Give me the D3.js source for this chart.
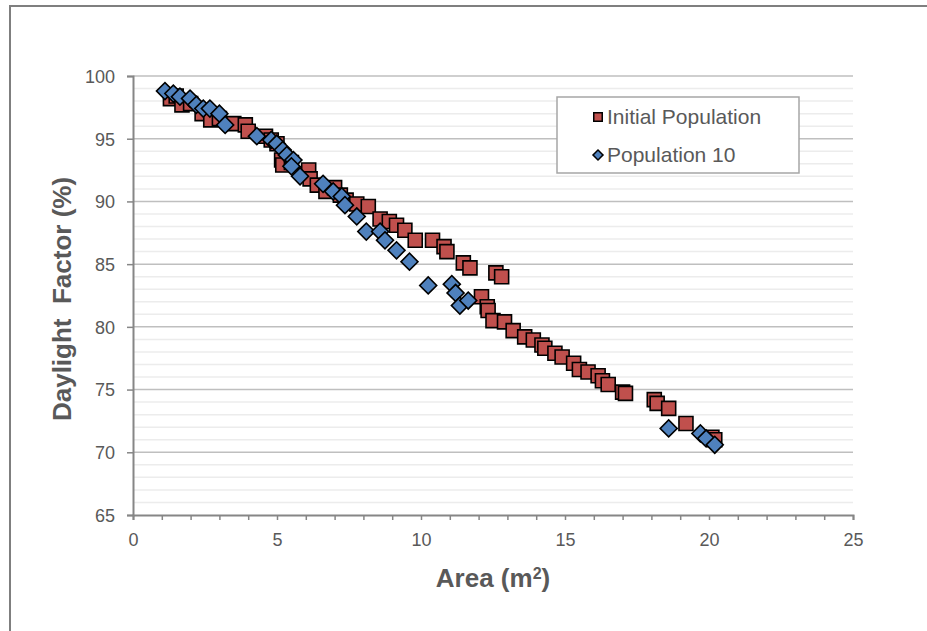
<!DOCTYPE html> <meta charset="utf-8" />
<style>
  body {
    margin: 0;
    background: #fff;
  }
  text {
    font-family: "Liberation Sans", Arial, sans-serif;
    fill: #595959;
  }
  .axis-title {
    font-size: 26px;
    font-weight: bold;
  }
  .legend {
    font-size: 21px;
  }
</style>
<body>
  <script src="https://d3js.org/d3.v7.min.js" charset="utf-8"></script>
  <script>
    // data
    var initialArea = [1.3, 1.5, 1.7, 2.0, 2.4, 2.7, 3.0, 3.5, 3.9, 4.0, 4.6, 4.8, 5.0, 5.16, 5.2, 5.5,
      6.0, 6.1, 6.15, 6.4, 6.7, 7.0, 7.2, 7.4, 7.77, 8.17, 8.58, 8.9, 9.15, 9.44, 9.8, 10.4, 10.8,
      10.9, 11.47, 11.7, 12.6, 12.8, 12.1, 12.3, 12.33, 12.5, 12.9, 13.2, 13.6, 13.9, 14.2, 14.3,
      14.65, 14.9, 15.3, 15.5, 15.8, 16.15, 16.3, 16.5, 17.0, 17.1, 18.1, 18.2, 18.6, 19.2, 20.1, 20.2];
    var initialDf = [98.2, 98.4, 97.7, 97.8, 97.0, 96.5, 96.6, 96.2, 96.1, 95.6, 95.2, 94.9, 94.6, 93.3, 92.9, 93.1,
      92.2, 92.5, 91.8, 91.3, 90.8, 91.1, 90.5, 90.1, 89.8, 89.6, 88.6, 88.4, 88.1, 87.7, 86.9, 86.9, 86.4,
      86.0, 85.1, 84.7, 84.3, 84.0, 82.4, 81.6, 81.3, 80.5, 80.4, 79.7, 79.2, 78.95, 78.55, 78.3,
      77.9, 77.6, 77.1, 76.6, 76.4, 76.1, 75.7, 75.4, 74.8, 74.7, 74.2, 73.9, 73.5, 72.3, 71.2, 71.0];

    var pop10Area = [1.11, 1.4, 1.63, 1.98, 2.2, 2.44, 2.67, 3.0, 3.2, 4.3, 4.8, 4.99, 5.2, 5.34, 5.57, 5.5,
      5.8, 6.6, 6.95, 7.25, 7.36, 7.77, 8.1, 8.58, 8.75, 9.15, 9.6, 10.25, 11.07, 11.2, 11.35, 11.64,
      18.6, 19.7, 19.9, 20.2];
    var pop10Df = [98.8, 98.6, 98.35, 98.2, 97.7, 97.4, 97.4, 97.0, 96.1, 95.2, 94.9, 94.6, 94.1, 93.7, 93.3, 92.8,
      92.0, 91.4, 90.8, 90.4, 89.7, 88.8, 87.6, 87.6, 86.9, 86.1, 85.2, 83.3, 83.4, 82.7, 81.7, 82.1,
      71.9, 71.5, 71.1, 70.6];

    var seriesNames = ["Initial Population", "Population 10"];
    var xTicks = [0, 5, 10, 15, 20, 25];
    var yTicks = [65, 70, 75, 80, 85, 90, 95, 100];

    var width = 927,
      height = 631;

    var svg = d3
      .select("body")
      .append("svg")
      .attr("width", width)
      .attr("height", height);

    // outer chart frame (runs off the right and bottom edge)
    svg
      .append("rect")
      .attr("x", 10)
      .attr("y", 6)
      .attr("width", 940)
      .attr("height", 660)
      .style("fill", "none")
      .style("stroke", "#7f7f7f")
      .style("stroke-width", 2);

    var x = d3.scaleLinear().domain([0, 25]).range([133, 853]);
    var y = d3.scaleLinear().domain([65, 100]).range([515, 76]);

    // minor gridlines every 1 unit
    svg
      .selectAll(".minor")
      .data(d3.range(66, 100).filter(d => d % 5 != 0))
      .enter()
      .append("line")
      .attr("class", "minor")
      .attr("x1", x(0))
      .attr("x2", x(25))
      .attr("y1", d => y(d))
      .attr("y2", d => y(d))
      .style("stroke", "#ececec")
      .style("stroke-width", 1.5);

    // major gridlines
    svg
      .selectAll(".major")
      .data(yTicks.filter(d => d > 65))
      .enter()
      .append("line")
      .attr("class", "major")
      .attr("x1", x(0))
      .attr("x2", x(25))
      .attr("y1", d => y(d))
      .attr("y2", d => y(d))
      .style("stroke", "#bfbfbf")
      .style("stroke-width", 1.5);

    // axes
    var xAxis = svg
      .append("g")
      .attr("transform", "translate(0," + y(65) + ")")
      .call(
        d3.axisBottom(x)
          .tickValues(d3.range(0, 26))
          .tickSize(5)
          .tickFormat(d => (xTicks.indexOf(d) >= 0 ? d : ""))
      );
    var yAxis = svg
      .append("g")
      .attr("transform", "translate(" + x(0) + ",0)")
      .call(d3.axisLeft(y).tickValues(yTicks).tickSize(6).tickPadding(12));

    [xAxis, yAxis].forEach(function(a) {
      a.select(".domain").style("stroke", "#868686").style("stroke-width", 2);
      a.selectAll(".tick line").style("stroke", "#868686").style("stroke-width", 1.5);
      a.selectAll(".tick text")
        .style("fill", "#595959")
        .style("font-family", "'Liberation Sans', Arial, sans-serif")
        .style("font-size", "18px");
    });
    xAxis.selectAll(".tick text").attr("dy", "1.25em");
    yAxis.selectAll(".tick text").attr("dy", "0.35em");

    // axis titles
    var xTitle = svg
      .append("text")
      .attr("class", "axis-title")
      .attr("x", 493)
      .attr("y", 587)
      .attr("text-anchor", "middle")
      .text("Area (m");
    xTitle.append("tspan").attr("baseline-shift", "super").style("font-size", "16px").text("2");
    xTitle.append("tspan").text(")");

    svg
      .append("text")
      .attr("class", "axis-title")
      .attr("transform", "translate(71,299) rotate(-90)")
      .attr("text-anchor", "middle")
      .style("white-space", "pre")
      .text("Daylight  Factor (%)");

    var square = d3.symbol().type(d3.symbolSquare).size(196);
    var diamond = d3.symbol().type(d3.symbolSquare).size(144);

    // initial population squares
    svg
      .selectAll(".initial")
      .data(initialArea.map((a, i) => [a, initialDf[i]]))
      .enter()
      .append("path")
      .attr("class", "initial")
      .attr("d", square)
      .attr("transform", d => "translate(" + x(d[0]) + "," + y(d[1]) + ")")
      .style("fill", "#c0504d")
      .style("stroke", "#000")
      .style("stroke-width", 1.6);

    // population 10 diamonds
    svg
      .selectAll(".pop10")
      .data(pop10Area.map((a, i) => [a, pop10Df[i]]))
      .enter()
      .append("path")
      .attr("class", "pop10")
      .attr("d", diamond)
      .attr("transform", d => "translate(" + x(d[0]) + "," + y(d[1]) + ") rotate(45)")
      .style("fill", "#4f81bd")
      .style("stroke", "#000")
      .style("stroke-width", 1.6);

    // legend box
    svg
      .append("rect")
      .attr("x", 557)
      .attr("y", 97)
      .attr("width", 242)
      .attr("height", 76)
      .style("fill", "#fff")
      .style("stroke", "#a6a6a6")
      .style("stroke-width", 1.5);

    var legend = svg
      .selectAll(".legend")
      .data(seriesNames)
      .enter()
      .append("g")
      .attr("class", "legend")
      .attr("transform", (d, i) => "translate(598," + (117 + 38 * i) + ")");
    legend
      .append("path")
      .attr("d", (d, i) =>
        i == 0
          ? d3.symbol().type(d3.symbolSquare).size(72)()
          : d3.symbol().type(d3.symbolSquare).size(50)()
      )
      .attr("transform", (d, i) => (i == 0 ? "" : "rotate(45)"))
      .style("fill", (d, i) => (i == 0 ? "#c0504d" : "#4f81bd"))
      .style("stroke", "#000")
      .style("stroke-width", 1.5);
    legend
      .append("text")
      .attr("x", 9)
      .attr("y", 7)
      .text(d => d);
  </script>
</body>
